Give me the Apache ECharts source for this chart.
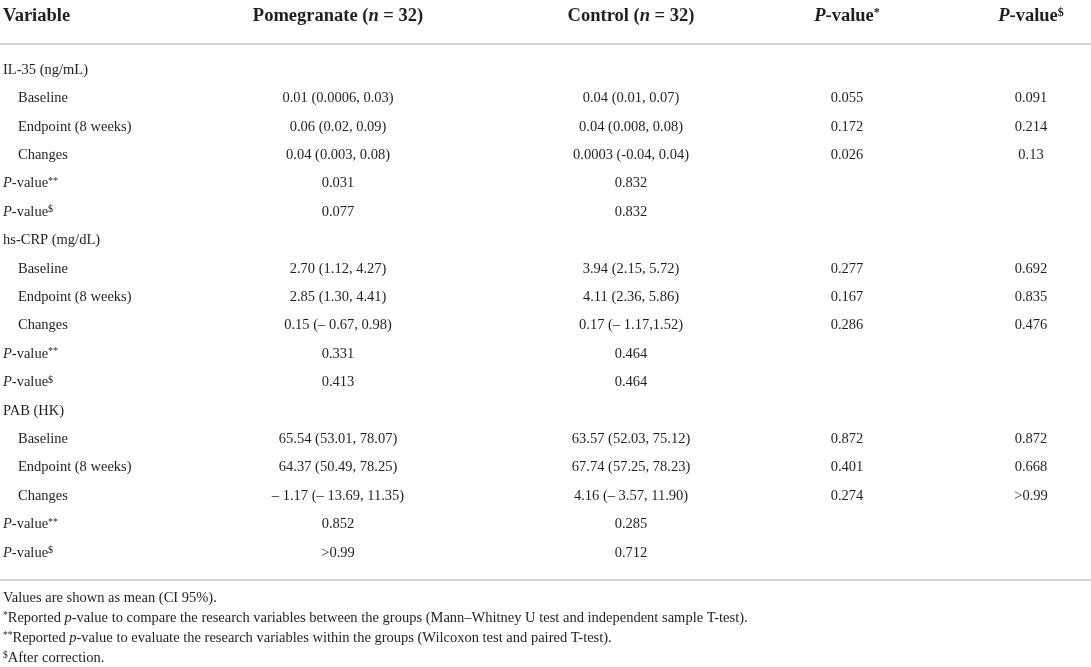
<!DOCTYPE html>
<html>
<head>
<meta charset="utf-8">
<script src="https://cdn.jsdelivr.net/npm/echarts/dist/echarts.min.js"></script>
<style>
  html, body { margin: 0; padding: 0; background: #fff; }
  #main { width: 1091px; height: 667px; }
</style>
</head>
<body>
<div id="main"></div>
<script>
// table content
var rowLabels = [
  'IL-35 (ng/mL)', 'Baseline', 'Endpoint (8 weeks)', 'Changes', 'P-value**', 'P-value$',
  'hs-CRP (mg/dL)', 'Baseline', 'Endpoint (8 weeks)', 'Changes', 'P-value**', 'P-value$',
  'PAB (HK)', 'Baseline', 'Endpoint (8 weeks)', 'Changes', 'P-value**', 'P-value$'
];
var subRows = [1, 2, 3, 7, 8, 9, 13, 14, 15];
var pomegranate = [
  '', '0.01 (0.0006, 0.03)', '0.06 (0.02, 0.09)', '0.04 (0.003, 0.08)', '0.031', '0.077',
  '', '2.70 (1.12, 4.27)', '2.85 (1.30, 4.41)', '0.15 (– 0.67, 0.98)', '0.331', '0.413',
  '', '65.54 (53.01, 78.07)', '64.37 (50.49, 78.25)', '– 1.17 (– 13.69, 11.35)', '0.852', '>0.99'
];
var control = [
  '', '0.04 (0.01, 0.07)', '0.04 (0.008, 0.08)', '0.0003 (-0.04, 0.04)', '0.832', '0.832',
  '', '3.94 (2.15, 5.72)', '4.11 (2.36, 5.86)', '0.17 (– 1.17,1.52)', '0.464', '0.464',
  '', '63.57 (52.03, 75.12)', '67.74 (57.25, 78.23)', '4.16 (– 3.57, 11.90)', '0.285', '0.712'
];
var pBetween = [
  '', '0.055', '0.172', '0.026', '', '',
  '', '0.277', '0.167', '0.286', '', '',
  '', '0.872', '0.401', '0.274', '', ''
];
var pCorrected = [
  '', '0.091', '0.214', '0.13', '', '',
  '', '0.692', '0.835', '0.476', '', '',
  '', '0.872', '0.668', '>0.99', '', ''
];
var footnotes = [
  'Values are shown as mean (CI 95%).',
  '{sup|*}Reported {i|p}-value to compare the research variables between the groups (Mann–Whitney U test and independent sample T-test).',
  '{sup|**}Reported {i|p}-value to evaluate the research variables within the groups (Wilcoxon test and paired T-test).',
  '{sup|$}After correction.'
];

// layout
var FONT = '"Liberation Serif", "DejaVu Serif", serif';
var INK = '#231f20';
var colX = [3, 338, 631, 847, 1031];
var columns = [rowLabels, pomegranate, control, pBetween, pCorrected];

var rich = {
  i: { fontFamily: FONT, fontSize: 14.5, fontStyle: 'italic', color: INK },
  sup: { fontFamily: FONT, fontSize: 10, color: INK, verticalAlign: 'top' }
};
var headRich = {
  b: { fontFamily: FONT, fontSize: 18.5, fontWeight: 'bold', color: INK },
  bi: { fontFamily: FONT, fontSize: 18.5, fontWeight: 'bold', fontStyle: 'italic', color: INK },
  sup: { fontFamily: FONT, fontSize: 12, fontWeight: 'bold', color: INK, verticalAlign: 'top' }
};
var noteRich = {
  i: { fontFamily: FONT, fontSize: 14.5, fontStyle: 'italic', color: INK },
  sup: { fontFamily: FONT, fontSize: 9.5, color: INK, verticalAlign: 'top' }
};

function markup(s) {
  var m = /^P-value(.*)$/.exec(s);
  return m ? '{i|P}-value{sup|' + m[1] + '}' : s;
}

var cells = [];
columns.forEach(function (col, c) {
  col.forEach(function (txt, r) {
    if (txt) cells.push({ col: c, row: r, text: c === 0 ? markup(txt) : txt });
  });
});

var myChart = echarts.init(document.getElementById('main'));

var heads = [
  { x: colX[0], align: 'left', text: '{b|Variable}' },
  { x: colX[1], align: 'center', text: '{b|Pomegranate (}{bi|n}{b| = 32)}' },
  { x: colX[2], align: 'center', text: '{b|Control (}{bi|n}{b| = 32)}' },
  { x: colX[3], align: 'center', text: '{bi|P}{b|-value}{sup|*}' },
  { x: colX[4], align: 'center', text: '{bi|P}{b|-value}{sup|$}' }
];

var graphics = heads.map(function (h) {
  return {
    type: 'text', x: h.x, y: 16,
    style: { text: h.text, rich: headRich, align: h.align, verticalAlign: 'middle',
             font: 'bold 18.5px ' + FONT, fill: INK }
  };
});
graphics.push({ type: 'line', shape: { x1: 0, y1: 44, x2: 1091, y2: 44 },
                style: { stroke: '#c4c4c4', lineWidth: 1.3 } });
graphics.push({ type: 'line', shape: { x1: 0, y1: 580, x2: 1091, y2: 580 },
                style: { stroke: '#c4c4c4', lineWidth: 1.3 } });
footnotes.forEach(function (t, k) {
  graphics.push({
    type: 'text', x: 3, y: 598 + k * 20,
    style: { text: t, rich: noteRich, align: 'left', verticalAlign: 'middle',
             font: '14.5px ' + FONT, fill: INK }
  });
});

var option = {
  animation: false,
  grid: { left: 0, right: 0, top: 55.8, bottom: 100 },
  xAxis: { type: 'value', min: 0, max: 1091, show: false },
  yAxis: { type: 'category', data: rowLabels, inverse: true, show: false },
  graphic: graphics,
  series: [{
    type: 'custom',
    data: cells.map(function (d) { return [d.col, d.row]; }),
    renderItem: function (params, api) {
      var c = api.value(0), r = api.value(1);
      var indent = (c === 0 && subRows.indexOf(r) >= 0) ? 15 : 0;
      var p = api.coord([colX[c] + indent, r]);
      return {
        type: 'text', x: p[0], y: p[1],
        style: {
          text: cells[params.dataIndex].text, rich: rich,
          align: c === 0 ? 'left' : 'center', verticalAlign: 'middle',
          font: '14.5px ' + FONT, fill: INK
        }
      };
    }
  }]
};

myChart.setOption(option);
</script>
</body>
</html>
